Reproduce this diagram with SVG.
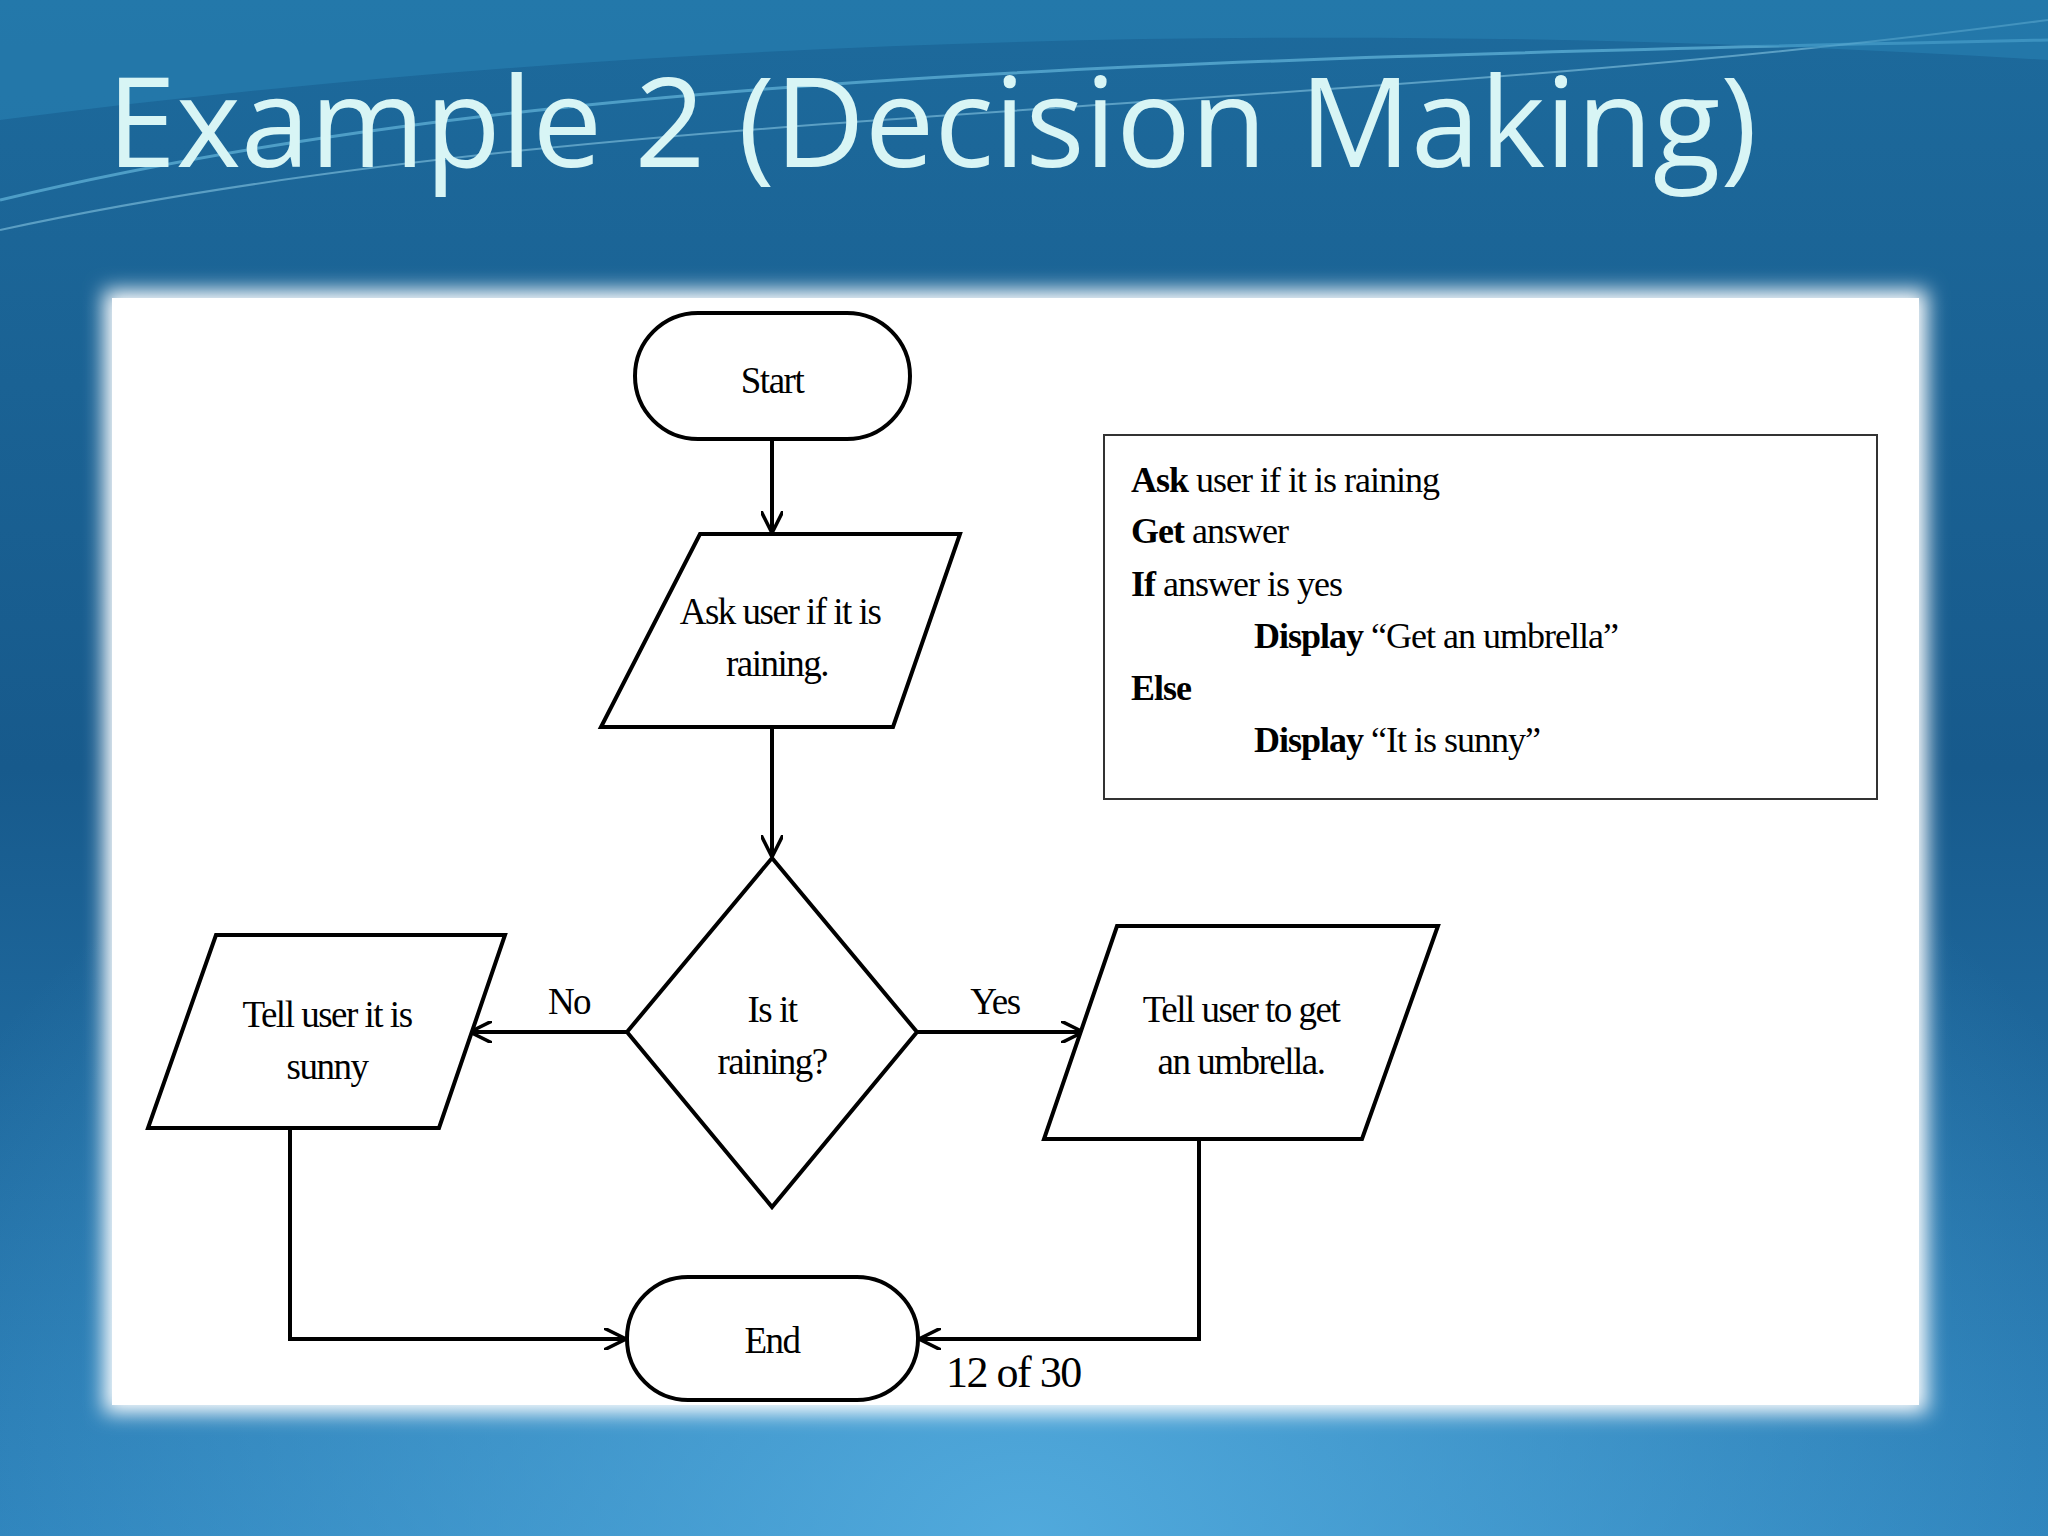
<svg xmlns="http://www.w3.org/2000/svg" width="2048" height="1536" viewBox="0 0 2048 1536">
<defs>
<linearGradient id="bg" x1="0" y1="0" x2="0" y2="1">
<stop offset="0" stop-color="#1d6a9c"/>
<stop offset="0.5" stop-color="#175a8c"/>
<stop offset="1" stop-color="#2a7fb8"/>
</linearGradient>
<radialGradient id="glow" cx="0.5" cy="1" r="0.6">
<stop offset="0" stop-color="#55aee0" stop-opacity="0.9"/>
<stop offset="1" stop-color="#55aee0" stop-opacity="0"/>
</radialGradient>
<filter id="blur"><feGaussianBlur stdDeviation="10"/></filter>
<marker id="ah" viewBox="0 0 10 10" refX="10" refY="5" markerWidth="22" markerHeight="22" markerUnits="userSpaceOnUse" orient="auto">
<path d="M0,0 L10,5 L0,10" fill="none" stroke="#000" stroke-width="1.6"/>
</marker>
<style>
.s{fill:#fff;stroke:#000;stroke-width:4}
.c{fill:none;stroke:#000;stroke-width:4;marker-end:url(#ah)}
.t{font-family:"Liberation Serif",serif;font-size:37px;text-anchor:middle;fill:#000;letter-spacing:-1.5px}
.p{font-family:"Liberation Serif",serif;font-size:36px;fill:#000;letter-spacing:-1px}
</style>
</defs>
<rect width="2048" height="1536" fill="url(#bg)"/>
<rect width="2048" height="1536" fill="url(#glow)"/>
<path d="M0,200 C500,80 1100,60 2048,40" fill="none" stroke="#6fc3e6" stroke-width="3" opacity="0.6"/>
<path d="M0,230 C600,100 1300,120 2048,20" fill="none" stroke="#9ad8ef" stroke-width="2" opacity="0.5"/>
<path d="M0,0 L2048,0 L2048,60 C1400,20 700,30 0,120 Z" fill="#2a86b8" opacity="0.5"/>
<text x="107" y="167" font-family="'Open Sans',sans-serif" font-size="124" fill="#d8f5f5" textLength="1650">Example 2 (Decision Making)</text>
<rect x="104" y="290" width="1823" height="1123" fill="#fff" filter="url(#blur)"/>
<rect x="112" y="298" width="1807" height="1107" fill="#fff"/>
<g id="connectors">
<line class="c" x1="772" y1="439" x2="772" y2="533"/>
<line class="c" x1="772" y1="727" x2="772" y2="857"/>
<line class="c" x1="627" y1="1032" x2="470" y2="1032"/>
<line class="c" x1="917" y1="1032" x2="1083" y2="1032"/>
<polyline class="c" points="290,1128 290,1339 626,1339"/>
<polyline class="c" points="1199,1139 1199,1339 919,1339"/>
<text class="t" x="569" y="1014">No</text>
<text class="t" x="995" y="1014">Yes</text>
</g>
<g id="start"><rect class="s" x="635" y="313" width="275" height="126" rx="63"/><text class="t" x="772" y="393">Start</text></g>
<g id="ask"><polygon class="s" points="700,534 960,534 893,727 601,727"/><text class="t" x="780" y="624">Ask user if it is</text><text class="t" x="777" y="676">raining.</text></g>
<g id="decision"><polygon class="s" points="772,858 917,1032 772,1207 627,1032"/><text class="t" x="772" y="1022">Is it</text><text class="t" x="772" y="1074">raining?</text></g>
<g id="sunny"><polygon class="s" points="216,935 505,935 439,1128 148,1128"/><text class="t" x="327" y="1027">Tell user it is</text><text class="t" x="327" y="1079">sunny</text></g>
<g id="umbrella"><polygon class="s" points="1117,926 1438,926 1362,1139 1044,1139"/><text class="t" x="1241" y="1022">Tell user to get</text><text class="t" x="1241" y="1074">an umbrella.</text></g>
<g id="end"><rect class="s" x="627" y="1277" width="291" height="123" rx="61"/><text class="t" x="772" y="1353">End</text></g>
<text x="946" y="1387" font-family="'Liberation Serif',serif" font-size="44" letter-spacing="-1.5">12 of 30</text>
<g id="pseudo">
<rect x="1104" y="435" width="773" height="364" fill="#fff" stroke="#333" stroke-width="2"/>
<text class="p" x="1131" y="492"><tspan font-weight="bold">Ask</tspan> user if it is raining</text>
<text class="p" x="1131" y="543"><tspan font-weight="bold">Get</tspan> answer</text>
<text class="p" x="1131" y="596"><tspan font-weight="bold">If</tspan> answer is yes</text>
<text class="p" x="1254" y="648"><tspan font-weight="bold">Display</tspan> “Get an umbrella”</text>
<text class="p" x="1131" y="700" font-weight="bold">Else</text>
<text class="p" x="1254" y="752"><tspan font-weight="bold">Display</tspan> “It is sunny”</text>
</g>
</svg>
